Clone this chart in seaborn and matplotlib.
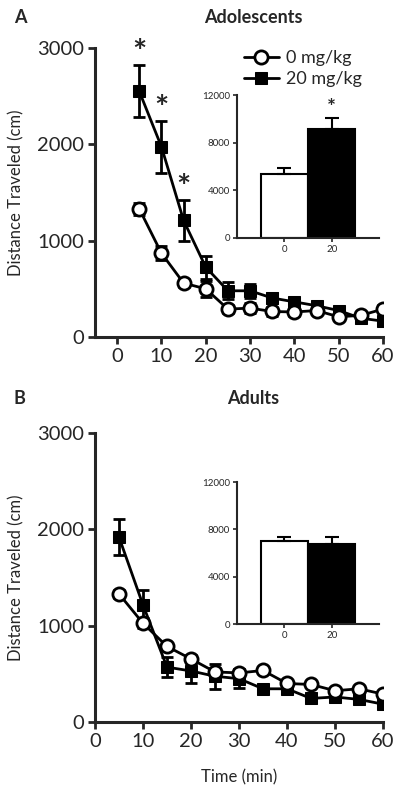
import numpy as np
import matplotlib
matplotlib.use("Agg")
import matplotlib.pyplot as plt
import seaborn as sns

# time points (min)
time_min = [5, 10, 15, 20, 25, 30, 35, 40, 45, 50, 55, 60]

# adolescents: distance traveled (cm) and SEM
adol_veh = [1330, 870, 560, 500, 290, 300, 265, 260, 275, 210, 225, 290]
adol_veh_sem = [60, 70, 40, 80, 40, 50, 50, 40, 40, 30, 30, 40]
adol_drug = [2550, 1975, 1210, 725, 480, 480, 405, 365, 325, 275, 195, 165]
adol_drug_sem = [270, 270, 215, 120, 90, 70, 50, 40, 40, 30, 30, 30]
adol_sig = [5, 10, 15]

# adults
adult_veh = [1330, 1025, 785, 655, 520, 510, 535, 400, 390, 325, 345, 290]
adult_veh_sem = [40, 50, 40, 40, 40, 40, 30, 30, 30, 30, 30, 30]
adult_drug = [1920, 1215, 570, 530, 475, 450, 345, 345, 245, 260, 235, 185]
adult_drug_sem = [190, 160, 100, 130, 130, 100, 40, 30, 30, 30, 30, 30]

# inset totals
doses = ["0", "20"]
adol_total = [5370, 9150]
adol_total_sem = [500, 950]
adult_total = [7040, 6790]
adult_total_sem = [340, 590]

sns.set_style("ticks")
plt.rcParams['font.family'] = ['Lato', 'DejaVu Sans']

fig = plt.figure(figsize=(4, 7.93), dpi=100)


def time_panel(ax, veh, veh_sem, drug, drug_sem, xlim, sig=()):
    # error bars first, markers on top
    ax.errorbar(time_min, drug, yerr=drug_sem, fmt='none', ecolor='k',
                elinewidth=2, capsize=4, capthick=2, zorder=2)
    ax.errorbar(time_min, veh, yerr=veh_sem, fmt='none', ecolor='k',
                elinewidth=2, capsize=4, capthick=2, zorder=2)
    sns.lineplot(x=time_min, y=drug, ax=ax, color='k', marker='s',
                 markersize=8.5, markeredgecolor='k', markerfacecolor='k',
                 linewidth=2, label='20 mg/kg', zorder=3)
    sns.lineplot(x=time_min, y=veh, ax=ax, color='k', marker='o',
                 markersize=9.5, markeredgecolor='k', markerfacecolor='white',
                 markeredgewidth=2, linewidth=2, label='0 mg/kg', zorder=4)
    for t in sig:
        i = time_min.index(t)
        ax.text(t, drug[i] + drug_sem[i] + 120, '*', ha='center', va='center',
                fontsize=24, fontweight='bold')
    ax.set_xlim(*xlim)
    ax.set_ylim(0, 3000)
    ax.set_xticks(range(0, 61, 10))
    ax.set_yticks([0, 1000, 2000, 3000])
    ax.tick_params(labelsize=14.5, width=2, length=5, pad=3)
    for s in ['left', 'bottom']:
        ax.spines[s].set_linewidth(2.2)
    sns.despine(ax=ax)
    ax.set_ylabel('Distance Traveled (cm)', fontsize=12, labelpad=9)
    ax.get_legend().remove()


def total_inset(ax, totals, sems, star=False):
    sns.barplot(x=doses, y=totals, ax=ax, palette=['white', 'black'],
                hue=doses, legend=False, width=1.0, edgecolor='k',
                linewidth=1.5, errorbar=None)
    ax.errorbar([0, 1], totals, yerr=[[0, 0], sems], fmt='none', ecolor='k',
                elinewidth=1.5, capsize=5, capthick=1.5)
    if star:
        ax.text(1, totals[1] + sems[1] + 800, '*', ha='center', va='center',
                fontsize=15, fontweight='bold')
    ax.set_xlim(-1, 2)
    ax.set_ylim(0, 12000)
    ax.set_yticks([0, 4000, 8000, 12000])
    ax.tick_params(labelsize=7, width=1.2, length=3, pad=2)
    for s in ['left', 'bottom']:
        ax.spines[s].set_linewidth(1.5)
    sns.despine(ax=ax)
    ax.set_facecolor('none')


# panel A
ax_a = fig.add_axes([0.2375, 0.575, 0.72, 0.3644])
time_panel(ax_a, adol_veh, adol_veh_sem, adol_drug, adol_drug_sem, (-5, 60), adol_sig)
ins_a = fig.add_axes([0.5925, 0.70, 0.355, 0.180])
total_inset(ins_a, adol_total, adol_total_sem, star=True)

handles, labels = ax_a.get_legend_handles_labels()
fig.legend(handles[::-1], labels[::-1], loc='upper left',
           bbox_to_anchor=(0.57, 0.957), frameon=False, fontsize=13,
           handlelength=1.9, handletextpad=0.4, labelspacing=0.25)

# panel B
ax_b = fig.add_axes([0.2375, 0.0895, 0.72, 0.3644])
time_panel(ax_b, adult_veh, adult_veh_sem, adult_drug, adult_drug_sem, (0, 60))
ax_b.set_xlabel('Time (min)', fontsize=12, labelpad=14)
ins_b = fig.add_axes([0.5925, 0.2131, 0.355, 0.179])
total_inset(ins_b, adult_total, adult_total_sem)

fig.text(0.05, 0.978, 'A', fontsize=13, fontweight='bold', va='center', ha='center')
fig.text(0.633, 0.978, 'Adolescents', fontsize=13, fontweight='bold', va='center', ha='center')
fig.text(0.048, 0.497, 'B', fontsize=13, fontweight='bold', va='center', ha='center')
fig.text(0.633, 0.497, 'Adults', fontsize=13, fontweight='bold', va='center', ha='center')

fig.savefig('out.png', dpi=100)
